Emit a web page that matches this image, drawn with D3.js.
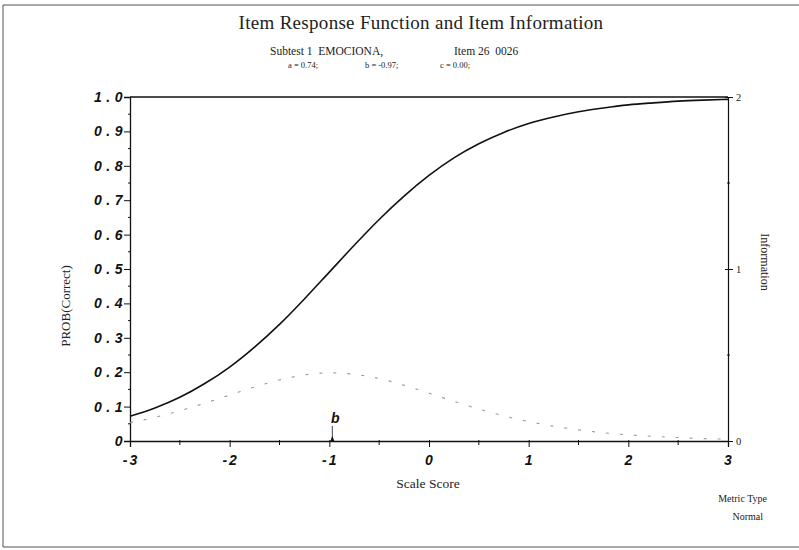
<!DOCTYPE html>
<html>
<head>
<meta charset="utf-8">
<script src="https://cdn.jsdelivr.net/npm/d3@7/dist/d3.min.js"></script>
<style>
  html, body { margin: 0; padding: 0; background: #fff; }
  svg { display: block; }
  text { white-space: pre; }
  .serif { font-family: "Liberation Serif", "DejaVu Serif", serif; fill: #222; }
  .tick-lab { font-family: "Liberation Sans", "DejaVu Sans", sans-serif; font-weight: bold; font-style: italic; fill: #111; }
</style>
</head>
<body>
<svg id="chart" width="799" height="550"></svg>
<script>
// Ability grid (scale score) and the item curves read at those points
const theta = [-3, -2.75, -2.5, -2.25, -2, -1.75, -1.5, -1.25, -1, -0.75, -0.5, -0.25,
               0, 0.25, 0.5, 0.75, 1, 1.25, 1.5, 1.75, 2, 2.25, 2.5, 2.75, 3];
const probCorrect = [0.072, 0.096, 0.127, 0.167, 0.215, 0.273, 0.339, 0.413, 0.491, 0.569, 0.644, 0.712,
                     0.772, 0.823, 0.864, 0.897, 0.923, 0.942, 0.957, 0.968, 0.977, 0.983, 0.988, 0.991, 0.993];
const information = [0.106, 0.138, 0.176, 0.220, 0.267, 0.314, 0.355, 0.384, 0.396, 0.388, 0.363, 0.324,
                     0.278, 0.231, 0.186, 0.146, 0.113, 0.086, 0.065, 0.048, 0.036, 0.027, 0.020, 0.014, 0.011];

// Item parameters
const paramA = 0.74, paramB = -0.97, paramC = 0.00;

// Axis ticks
const xTicks = [-3, -2, -1, 0, 1, 2, 3];
const yTicks = [0, 0.1, 0.2, 0.3, 0.4, 0.5, 0.6, 0.7, 0.8, 0.9, 1.0];
const yTickLabels = ["0", "0.1", "0.2", "0.3", "0.4", "0.5", "0.6", "0.7", "0.8", "0.9", "1.0"];
const infoTicks = [0, 1, 2];

const svg = d3.select("#chart");
const plotLeft = 130, plotRight = 728, plotTop = 97, plotBottom = 441;

const x = d3.scaleLinear().domain([-3, 3]).range([plotLeft, plotRight]);
const y = d3.scaleLinear().domain([0, 1]).range([plotBottom, plotTop]);
const yInfo = d3.scaleLinear().domain([0, 2]).range([plotBottom, plotTop]);

// Outer page frame
svg.append("path")
  .attr("d", "M3,547 L3,5 L799,5 M3,547 L799,547")
  .attr("fill", "none").attr("stroke", "#555").attr("stroke-width", 1);

// Titles
svg.append("text").attr("class", "serif").attr("x", 421).attr("y", 29)
  .attr("text-anchor", "middle").attr("font-size", 19).attr("letter-spacing", 0.3)
  .text("Item Response Function and Item Information");
svg.append("text").attr("class", "serif").attr("x", 270).attr("y", 55)
  .attr("font-size", 11.5).text("Subtest 1  EMOCIONA,");
svg.append("text").attr("class", "serif").attr("x", 454).attr("y", 55)
  .attr("font-size", 11.5).text("Item 26  0026");
svg.append("text").attr("class", "serif").attr("x", 288).attr("y", 68)
  .attr("font-size", 8.5).text(`a = ${paramA.toFixed(2)};`);
svg.append("text").attr("class", "serif").attr("x", 365).attr("y", 68)
  .attr("font-size", 8.5).text(`b = ${paramB.toFixed(2)};`);
svg.append("text").attr("class", "serif").attr("x", 440).attr("y", 68)
  .attr("font-size", 8.5).text(`c = ${paramC.toFixed(2)};`);

// Plot frame top edge
svg.append("line").attr("x1", plotLeft).attr("x2", plotRight).attr("y1", plotTop).attr("y2", plotTop)
  .attr("stroke", "#111").attr("stroke-width", 1.3);

// Left axis: probability
const yAxis = d3.axisLeft(y).tickValues(yTicks).tickSize(6).tickFormat("");
const gy = svg.append("g").attr("transform", `translate(${plotLeft},0)`).call(yAxis);
gy.select(".domain").attr("stroke", "#111").attr("stroke-width", 1.3);
gy.selectAll(".tick line").attr("stroke", "#111").attr("x2", -6).attr("x1", 1);
const yMinor = d3.range(0.05, 1, 0.1);
svg.append("g").selectAll("line").data(yMinor).join("line")
  .attr("x1", plotLeft - 2).attr("x2", plotLeft + 1)
  .attr("y1", d => y(d)).attr("y2", d => y(d)).attr("stroke", "#111");
svg.append("g").selectAll("text").data(yTicks).join("text")
  .attr("class", "tick-lab").attr("font-size", 14).attr("letter-spacing", 4.5)
  .attr("x", plotLeft - 3).attr("y", d => y(d) + 5).attr("text-anchor", "end")
  .text((d, i) => yTickLabels[i]);

// Bottom axis: scale score
const xAxis = d3.axisBottom(x).tickValues(xTicks).tickSize(6).tickFormat("");
const gx = svg.append("g").attr("transform", `translate(0,${plotBottom})`).call(xAxis);
gx.select(".domain").attr("stroke", "#111").attr("stroke-width", 1.3);
gx.selectAll(".tick line").attr("stroke", "#111").attr("y1", -1);
const xMinor = d3.range(-2.5, 3, 1);
svg.append("g").selectAll("line").data(xMinor).join("line")
  .attr("x1", d => x(d)).attr("x2", d => x(d))
  .attr("y1", plotBottom - 1).attr("y2", plotBottom + 4).attr("stroke", "#111");
svg.append("g").selectAll("text").data(xTicks).join("text")
  .attr("class", "tick-lab").attr("font-size", 14).attr("letter-spacing", 2)
  .attr("x", d => x(d) + 1).attr("y", plotBottom + 24).attr("text-anchor", "middle")
  .text(d => d < 0 ? "-" + Math.abs(d) : String(d));

// Right axis: information
const infoAxis = d3.axisRight(yInfo).tickValues(infoTicks).tickSize(5).tickFormat("");
const gi = svg.append("g").attr("transform", `translate(${plotRight},0)`).call(infoAxis);
gi.select(".domain").attr("stroke", "#111").attr("stroke-width", 1.2);
gi.selectAll(".tick line").attr("stroke", "#111").attr("x1", -3);
svg.append("g").selectAll("line").data([0.5, 1.5]).join("line")
  .attr("x1", plotRight - 1).attr("x2", plotRight + 2)
  .attr("y1", d => yInfo(d)).attr("y2", d => yInfo(d)).attr("stroke", "#111");
svg.append("g").selectAll("text").data(infoTicks).join("text")
  .attr("class", "serif").attr("font-size", 10.5)
  .attr("x", plotRight + 8).attr("y", d => yInfo(d) + 4)
  .text(d => d);

// Axis titles
svg.append("text").attr("class", "serif").attr("font-size", 13)
  .attr("transform", "translate(70,306) rotate(-90)").attr("text-anchor", "middle")
  .text("PROB(Correct)");
svg.append("text").attr("class", "serif").attr("font-size", 12)
  .attr("transform", "translate(761,262) rotate(90)").attr("text-anchor", "middle")
  .text("Information");
svg.append("text").attr("class", "serif").attr("font-size", 13.5)
  .attr("x", 428).attr("y", 488).attr("text-anchor", "middle")
  .text("Scale Score");

// Metric note
svg.append("text").attr("class", "serif").attr("font-size", 10)
  .attr("x", 767).attr("y", 502).attr("text-anchor", "end").text("Metric Type");
svg.append("text").attr("class", "serif").attr("font-size", 10)
  .attr("x", 763).attr("y", 520).attr("text-anchor", "end").text("Normal");

// Item information curve (dotted, light)
const infoLine = d3.line().x((d, i) => x(theta[i])).y(d => yInfo(d)).curve(d3.curveMonotoneX);
svg.append("path").datum(information)
  .attr("d", infoLine).attr("fill", "none")
  .attr("stroke", "#9a9a9a").attr("stroke-width", 1.1)
  .attr("stroke-dasharray", "3,11");

// Item response function
const probLine = d3.line().x((d, i) => x(theta[i])).y(d => y(d)).curve(d3.curveMonotoneX);
svg.append("path").datum(probCorrect)
  .attr("d", probLine).attr("fill", "none")
  .attr("stroke", "#111").attr("stroke-width", 1.6);

// Difficulty marker
svg.append("line").attr("x1", x(paramB)).attr("x2", x(paramB))
  .attr("y1", plotBottom).attr("y2", plotBottom - 15)
  .attr("stroke", "#444").attr("stroke-width", 1);
svg.append("path")
  .attr("d", `M${x(paramB) - 2},${plotBottom} L${x(paramB)},${plotBottom - 5} L${x(paramB) + 2},${plotBottom} Z`)
  .attr("fill", "#111");
svg.append("text").attr("class", "tick-lab").attr("font-size", 14)
  .attr("x", x(paramB) + 3).attr("y", plotBottom - 18).attr("text-anchor", "middle")
  .text("b");
</script>
</body>
</html>
